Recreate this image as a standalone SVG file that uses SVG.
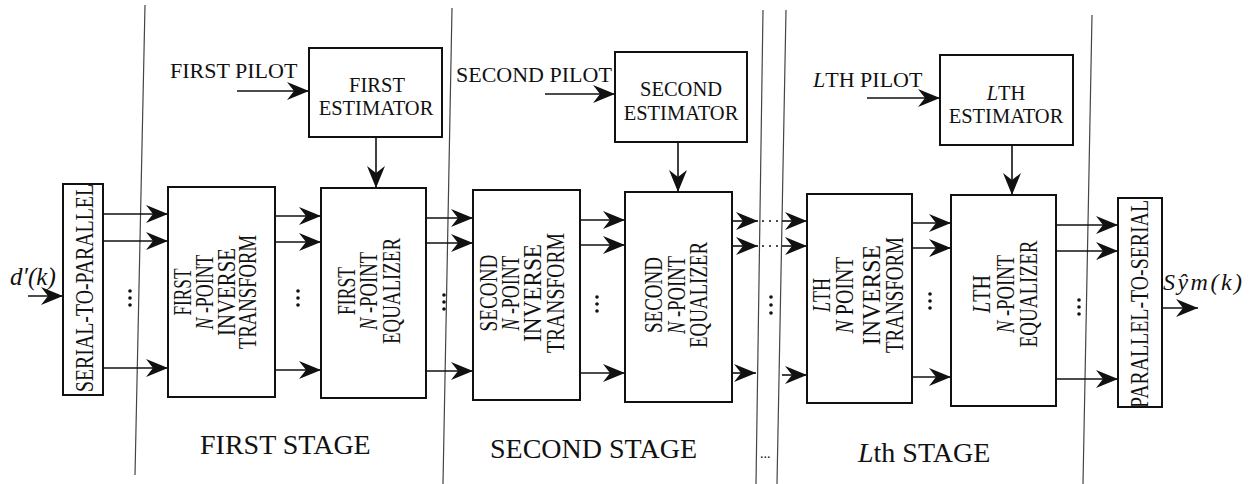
<svg xmlns="http://www.w3.org/2000/svg" width="1254" height="484" viewBox="0 0 1254 484">
<style>
.box{fill:#fff;stroke:#111;stroke-width:2}
.conn line{stroke:#111;stroke-width:1.6;fill:none}
.arr{marker-end:url(#ah)}
.dot{stroke:#111;stroke-width:2;stroke-dasharray:2 5}
.div{stroke:#444;stroke-width:1.2;fill:none}
.t{font-family:"Liberation Serif","Times New Roman",serif;fill:#111}
.bx{font-size:25px}
.es{font-size:20.5px;text-anchor:middle}
.pl{font-size:22px}
.st{font-size:28px}
.i{font-style:italic}
.mid{text-anchor:middle}
.vd circle{fill:#111}
</style>
<defs>
<marker id="ah" markerWidth="24" markerHeight="20" refX="22" refY="9" orient="auto" markerUnits="userSpaceOnUse">
<path d="M0,0 L22,9 L0,18 L7,9 z" fill="#111"/>
</marker>
</defs>
<rect width="1254" height="484" fill="#fff"/>

<g id="dividers">
<line class="div" x1="145" y1="5" x2="135" y2="475"/>
<line class="div" x1="452" y1="8" x2="443" y2="484"/>
<line class="div" x1="763" y1="10" x2="756" y2="484"/>
<line class="div" x1="786" y1="10" x2="777" y2="484"/>
<line class="div" x1="1092" y1="15" x2="1083" y2="484"/>
</g>

<g id="connectors" class="conn">
<line class="arr" x1="28" y1="296" x2="63" y2="296"/>
<line class="arr" x1="103" y1="214" x2="168" y2="214"/>
<line class="arr" x1="103" y1="241" x2="168" y2="241"/>
<line class="arr" x1="103" y1="368" x2="168" y2="368"/>
<line class="arr" x1="275" y1="216" x2="321" y2="216"/>
<line class="arr" x1="275" y1="242" x2="321" y2="242"/>
<line class="arr" x1="275" y1="370" x2="321" y2="370"/>
<line class="arr" x1="426" y1="218" x2="473" y2="218"/>
<line class="arr" x1="426" y1="243" x2="473" y2="243"/>
<line class="arr" x1="426" y1="371" x2="473" y2="371"/>
<line class="arr" x1="580" y1="220" x2="625" y2="220"/>
<line class="arr" x1="580" y1="245" x2="625" y2="245"/>
<line class="arr" x1="580" y1="373" x2="625" y2="373"/>
<line class="arr" x1="732" y1="221" x2="758" y2="221"/>
<line class="arr" x1="732" y1="246" x2="758" y2="246"/>
<line class="arr" x1="732" y1="373" x2="756" y2="373"/>
<line class="dot" x1="762" y1="221" x2="782" y2="221"/>
<line class="dot" x1="762" y1="246" x2="782" y2="246"/>
<line class="arr" x1="782" y1="221" x2="807" y2="221"/>
<line class="arr" x1="782" y1="246" x2="807" y2="246"/>
<line class="arr" x1="782" y1="375" x2="807" y2="375"/>
<line class="arr" x1="912" y1="223" x2="951" y2="223"/>
<line class="arr" x1="912" y1="248" x2="951" y2="248"/>
<line class="arr" x1="912" y1="377" x2="951" y2="377"/>
<line class="arr" x1="1056" y1="225" x2="1118" y2="225"/>
<line class="arr" x1="1056" y1="251" x2="1118" y2="251"/>
<line class="arr" x1="1056" y1="379" x2="1118" y2="379"/>
<line class="arr" x1="1162" y1="308" x2="1198" y2="308"/>
<line class="arr" x1="237" y1="91" x2="309" y2="91"/>
<line class="arr" x1="545" y1="94" x2="615" y2="94"/>
<line class="arr" x1="867" y1="98" x2="940" y2="98"/>
<line class="arr" x1="376" y1="137" x2="376" y2="188"/>
<line class="arr" x1="678" y1="142" x2="678" y2="192"/>
<line class="arr" x1="1012" y1="145" x2="1012" y2="195"/>
</g>

<g id="ellipses" class="vd">
<circle cx="130" cy="291" r="1.8"/><circle cx="130" cy="298" r="1.8"/><circle cx="130" cy="305" r="1.8"/>
<circle cx="298" cy="291" r="1.8"/><circle cx="298" cy="298" r="1.8"/><circle cx="298" cy="305" r="1.8"/>
<circle cx="444" cy="295" r="1.8"/><circle cx="444" cy="302" r="1.8"/><circle cx="444" cy="309" r="1.8"/>
<circle cx="597" cy="297" r="1.8"/><circle cx="597" cy="304" r="1.8"/><circle cx="597" cy="311" r="1.8"/>
<circle cx="771" cy="297" r="1.8"/><circle cx="771" cy="305" r="1.8"/><circle cx="771" cy="313" r="1.8"/>
<circle cx="930" cy="294" r="1.8"/><circle cx="930" cy="301" r="1.8"/><circle cx="930" cy="308" r="1.8"/>
<circle cx="1079" cy="300" r="1.8"/><circle cx="1079" cy="307" r="1.8"/><circle cx="1079" cy="314" r="1.8"/>
<text class="t" x="760" y="458" font-size="14">...</text>
</g>

<g id="serial-to-parallel">
<rect class="box" x="63" y="184" width="40" height="211"/>
<text class="t mid" transform="translate(0,288) rotate(-90)" x="0" y="93" font-size="25" textLength="208" lengthAdjust="spacingAndGlyphs">SERIAL-TO-PARALLEL</text>
</g>

<g id="first-inverse-transform">
<rect class="box" x="168" y="187" width="107" height="210"/>
<g class="t bx mid" transform="translate(0,292) rotate(-90)">
<text x="0" y="191" textLength="47" lengthAdjust="spacingAndGlyphs">FIRST</text>
<text x="0" y="213" textLength="75" lengthAdjust="spacingAndGlyphs"><tspan class="i">N</tspan> -POINT</text>
<text x="0" y="235" textLength="88" lengthAdjust="spacingAndGlyphs">INVERSE</text>
<text x="0" y="256" textLength="114" lengthAdjust="spacingAndGlyphs">TRANSFORM</text>
</g>
</g>

<g id="first-equalizer">
<rect class="box" x="321" y="188" width="105" height="210"/>
<g class="t bx mid" transform="translate(0,291) rotate(-90)">
<text x="0" y="355" textLength="48" lengthAdjust="spacingAndGlyphs">FIRST</text>
<text x="0" y="377" textLength="78" lengthAdjust="spacingAndGlyphs"><tspan class="i">N</tspan> -POINT</text>
<text x="0" y="400" textLength="106" lengthAdjust="spacingAndGlyphs">EQUALIZER</text>
</g>
</g>

<g id="first-estimator">
<rect class="box" x="309" y="48" width="133" height="89"/>
<text class="t es" x="377" y="92">FIRST</text>
<text class="t es" x="376" y="115">ESTIMATOR</text>
</g>
<text class="t pl" x="170" y="78">FIRST PILOT</text>

<g id="second-inverse-transform">
<rect class="box" x="473" y="190" width="107" height="210"/>
<g class="t bx mid" transform="translate(0,293) rotate(-90)">
<text x="0" y="497" textLength="77" lengthAdjust="spacingAndGlyphs">SECOND</text>
<text x="0" y="519" textLength="75" lengthAdjust="spacingAndGlyphs"><tspan class="i">N</tspan> -POINT</text>
<text x="0" y="541" textLength="98" lengthAdjust="spacingAndGlyphs">INVERSE</text>
<text x="0" y="564" textLength="120" lengthAdjust="spacingAndGlyphs">TRANSFORM</text>
</g>
</g>

<g id="second-equalizer">
<rect class="box" x="625" y="192" width="107" height="210"/>
<g class="t bx mid" transform="translate(0,295) rotate(-90)">
<text x="0" y="662" textLength="76" lengthAdjust="spacingAndGlyphs">SECOND</text>
<text x="0" y="685" textLength="78" lengthAdjust="spacingAndGlyphs"><tspan class="i">N</tspan> -POINT</text>
<text x="0" y="707" textLength="106" lengthAdjust="spacingAndGlyphs">EQUALIZER</text>
</g>
</g>

<g id="second-estimator">
<rect class="box" x="615" y="52" width="132" height="90"/>
<text class="t es" x="681" y="96">SECOND</text>
<text class="t es" x="681" y="120">ESTIMATOR</text>
</g>
<text class="t pl" x="456" y="82">SECOND PILOT</text>

<g id="lth-inverse-transform">
<rect class="box" x="807" y="194" width="105" height="209"/>
<g class="t bx mid" transform="translate(0,295) rotate(-90)">
<text x="0" y="830" textLength="34" lengthAdjust="spacingAndGlyphs"><tspan class="i">L</tspan>TH</text>
<text x="0" y="853" textLength="77" lengthAdjust="spacingAndGlyphs"><tspan class="i">N</tspan> POINT</text>
<text x="0" y="880" textLength="100" lengthAdjust="spacingAndGlyphs">INVERSE</text>
<text x="0" y="903" textLength="116" lengthAdjust="spacingAndGlyphs">TRANSFORM</text>
</g>
</g>

<g id="lth-equalizer">
<rect class="box" x="951" y="195" width="105" height="211"/>
<g class="t bx mid" transform="translate(0,294) rotate(-90)">
<text x="0" y="990" textLength="38" lengthAdjust="spacingAndGlyphs"><tspan class="i">L</tspan>TH</text>
<text x="0" y="1014" textLength="78" lengthAdjust="spacingAndGlyphs"><tspan class="i">N</tspan> -POINT</text>
<text x="0" y="1037" textLength="107" lengthAdjust="spacingAndGlyphs">EQUALIZER</text>
</g>
</g>

<g id="lth-estimator">
<rect class="box" x="940" y="55" width="133" height="90"/>
<text class="t es" x="1006" y="100"><tspan class="i">L</tspan>TH</text>
<text class="t es" x="1006" y="123">ESTIMATOR</text>
</g>
<text class="t pl" x="813" y="87"><tspan class="i">L</tspan>TH PILOT</text>

<g id="parallel-to-serial">
<rect class="box" x="1118" y="198" width="44" height="209"/>
<text class="t mid" transform="translate(0,304) rotate(-90)" x="0" y="1148" font-size="25" textLength="208" lengthAdjust="spacingAndGlyphs">PARALLEL-TO-SERIAL</text>
</g>

<g id="labels">
<text class="t i" x="10" y="285" font-size="25">d′(k)</text>
<text class="t i" x="1163" y="290" font-size="24" textLength="79" lengthAdjust="spacing">Sŷm(k)</text>
<text class="t st" x="200" y="454">FIRST STAGE</text>
<text class="t st" x="490" y="458">SECOND STAGE</text>
<text class="t st" x="858" y="462"><tspan class="i">L</tspan>th STAGE</text>
</g>
</svg>
